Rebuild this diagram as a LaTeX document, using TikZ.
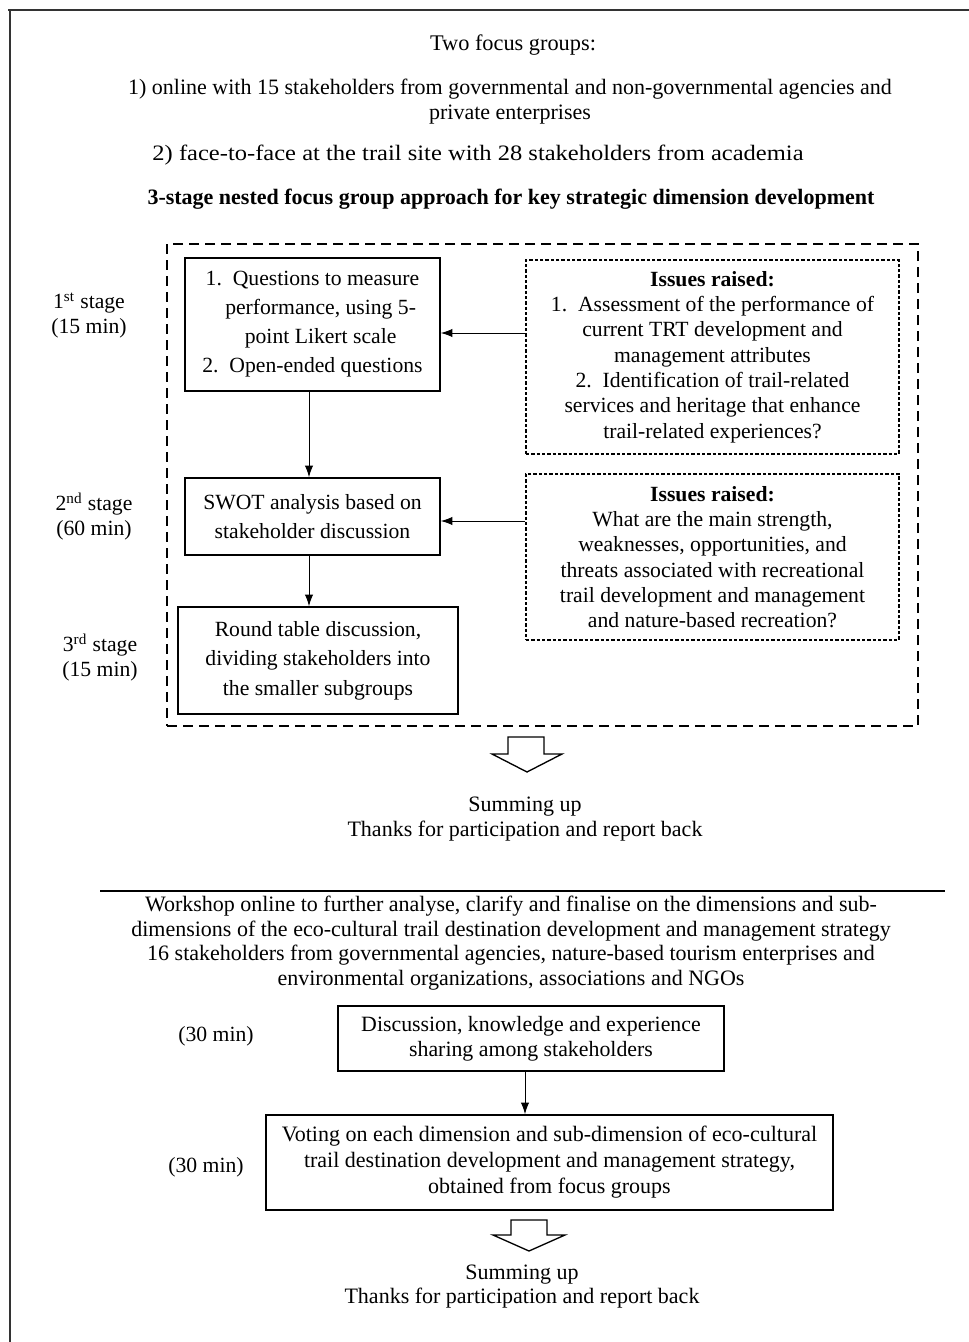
\documentclass[tikz,border=0pt]{standalone}
\usepackage{fontspec}
\usepackage{graphicx}
\setmainfont{Liberation Serif}
\usetikzlibrary{arrows.meta}
\begin{document}
\begin{tikzpicture}[x=0.6pt,y=-0.6pt,
  hdr/.style={font=\fontsize{13.2}{15}\selectfont,align=center,inner sep=0pt},
  solidbox/.style={draw,line width=0.9pt,align=center,inner sep=0pt},
  issuebox/.style={draw,line width=0.8pt,dash pattern=on 2pt off 1.2pt,align=center,inner sep=0pt},
  lbl/.style={font=\fontsize{13}{15}\selectfont,align=center,inner sep=0pt},
  conn/.style={-{Latex[length=7pt,width=5pt]},line width=0.6pt},
  blockarrow/.style={draw,line width=0.8pt,fill=white}
]
\useasboundingbox (0,0) rectangle (969,1342);
% outer frame (only top and left visible)
\draw[line width=1.3pt,black!80] (8,10) -- (969,10);
\draw[line width=1.3pt,black!80] (10,9) -- (10,1342);

% header texts
\node[hdr,font=\fontsize{13.4}{15}\selectfont] (t0) at (513,45) {Two focus groups:};
\node[hdr] (t1) at (510,101.5) {1) online with 15 stakeholders from governmental and non-governmental agencies and\\private enterprises};
\node[hdr] (t2) at (478,155) {\scalebox{1.115}[1]{2) face-to-face at the trail site with 28 stakeholders from academia}};
\node[hdr,font=\fontsize{13.2}{15}\selectfont\bfseries] (t3) at (511,199) {3-stage nested focus group approach for key strategic dimension development};

% nested dashed container
\node[draw,line width=0.9pt,dash pattern=on 6pt off 3.6pt,minimum width=450.6pt,minimum height=289.2pt,inner sep=0pt] (nest) at (542.5,485) {};

% stage boxes
\node[solidbox,minimum width=153pt,minimum height=79.8pt,font=\fontsize{13}{17.4}\selectfont] (b1) at (312.5,324.5)
  {1.\ \ Questions to measure\\ \ \ \ performance, using 5-\\ \ \ \ point Likert scale\\2.\ \ Open-ended questions};
\node[solidbox,minimum width=153pt,minimum height=46.2pt,font=\fontsize{13}{17.4}\selectfont] (b2) at (312.5,516.5)
  {SWOT analysis based on\\stakeholder discussion};
\node[solidbox,minimum width=168pt,minimum height=64.2pt,font=\fontsize{13}{17.7}\selectfont] (b3) at (318,660.5)
  {Round table discussion,\\dividing stakeholders into\\the smaller subgroups};

% issues boxes
\node[issuebox,minimum width=223.8pt,minimum height=116.4pt,font=\fontsize{13}{15.2}\selectfont] (i1) at (712.5,357)
  {\textbf{Issues raised:}\\1.\ \ Assessment of the performance of\\current TRT development and\\management attributes\\2.\ \ Identification of trail-related\\services and heritage that enhance\\trail-related experiences?};
\node[issuebox,minimum width=223.8pt,minimum height=99.6pt,font=\fontsize{13}{15.2}\selectfont] (i2) at (712.5,557)
  {\textbf{Issues raised:}\\What are the main strength,\\weaknesses, opportunities, and\\threats associated with recreational\\trail development and management\\and nature-based recreation?};

% stage labels
\node[lbl] (s1) at (89,315.5) {1\textsuperscript{st} stage\\(15 min)};
\node[lbl] (s2) at (94,516.5) {2\textsuperscript{nd} stage\\(60 min)};
\node[lbl] (s3) at (100,657.5) {3\textsuperscript{rd} stage\\(15 min)};

% connectors
\draw[conn] (i1.west |- 0,333) -- (b1.east |- 0,333);
\draw[conn] (i2.west |- 0,521) -- (b2.east |- 0,521);
\draw[conn] (b1.south -| 309,0) -- (b2.north -| 309,0);
\draw[conn] (b2.south -| 309,0) -- (b3.north -| 309,0);

% block arrow 1
\draw[blockarrow] (508,737) -- (544,737) -- (544,754) -- (562,754) -- (527,772) -- (492,754) -- (508,754) -- cycle;
\node[hdr] (sum1) at (525,819.5) {Summing up\\Thanks for participation and report back};

% separator
\draw[line width=0.8pt] (100,891) -- (945,891);

% workshop
\node[hdr,font=\fontsize{13.2}{14.8}\selectfont] (w) at (511,943)
  {Workshop online to further analyse, clarify and finalise on the dimensions and sub-\\dimensions of the eco-cultural trail destination development and management strategy\\16 stakeholders from governmental agencies, nature-based tourism enterprises and\\environmental organizations, associations and NGOs};

\node[solidbox,minimum width=231.6pt,minimum height=39pt,font=\fontsize{13.1}{15}\selectfont] (b4) at (531,1038.5)
  {Discussion, knowledge and experience\\sharing among stakeholders};
\node[solidbox,minimum width=340.2pt,minimum height=57pt,font=\fontsize{13.2}{15.6}\selectfont] (b5) at (549.5,1162.5)
  {Voting on each dimension and sub-dimension of eco-cultural\\trail destination development and management strategy,\\obtained from focus groups};
\node[lbl] (m4) at (216,1036) {(30 min)};
\node[lbl] (m5) at (206,1167) {(30 min)};

\draw[conn] (b4.south -| 525,0) -- (b5.north -| 525,0);

% block arrow 2
\draw[blockarrow] (511,1220) -- (547,1220) -- (547,1235) -- (565,1235) -- (529,1251) -- (493,1235) -- (511,1235) -- cycle;
\node[hdr,font=\fontsize{13.2}{14.4}\selectfont] (sum2) at (522,1287) {Summing up\\Thanks for participation and report back};
\end{tikzpicture}
\end{document}
